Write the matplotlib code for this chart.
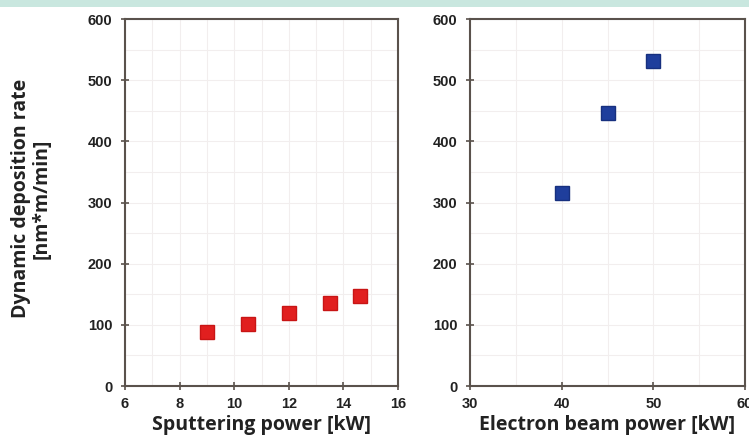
import matplotlib
matplotlib.use("Agg")
import matplotlib.pyplot as plt
from matplotlib.patches import Rectangle
from matplotlib.font_manager import FontProperties

# Data
sputter_power = [9.0, 10.5, 12.0, 13.5, 14.6]
sputter_rate = [88, 101, 119, 136, 147]
ebeam_power = [40, 45, 50]
ebeam_rate = [316, 446, 532]

left_xticks = [6, 8, 10, 12, 14, 16]
right_xticks = [30, 40, 50, 60]
yticks = [0, 100, 200, 300, 400, 500, 600]

fig = plt.figure(figsize=(7.49, 4.41), dpi=100)
fig.patch.set_facecolor("white")
fig.patches.append(Rectangle((0, 1 - 7 / 441), 1, 7 / 441, transform=fig.transFigure,
                             facecolor="#c9e7df", edgecolor="none"))

spine_col = "#5a524c"
tick_fp = FontProperties(family="Liberation Sans", weight="bold", size=10.5)
label_font = dict(family="Open Sans", weight="bold", size=14)


def style(ax, xlim, xticks, xminor):
    ax.set_xlim(*xlim)
    ax.set_ylim(0, 600)
    ax.set_xticks(xticks)
    ax.set_yticks(yticks)
    ax.set_xticks(xminor, minor=True)
    ax.set_yticks(range(50, 600, 100), minor=True)
    for s in ax.spines.values():
        s.set_color(spine_col)
        s.set_linewidth(1.5)
    ax.tick_params(axis="both", which="major", direction="inout", length=6,
                   width=1.2, color=spine_col, labelcolor="#222222")
    ax.tick_params(axis="x", which="major", pad=5)
    ax.tick_params(axis="y", which="major", pad=6)
    ax.tick_params(axis="both", which="minor", length=0)
    for lab in ax.get_xticklabels() + ax.get_yticklabels():
        lab.set_fontproperties(tick_fp)
    ax.grid(True, which="both", color="#f2eeee", linewidth=0.8)
    ax.set_axisbelow(True)


ax1 = fig.add_axes([125 / 749, 55 / 441, 273 / 749, 367 / 441])
ax1.plot(sputter_power, sputter_rate, linestyle="none", marker="s", markersize=10,
         color="#e11f1f", markeredgecolor="#c81515")
style(ax1, (6, 16), left_xticks, [7, 9, 11, 13, 15])
ax1.set_xlabel("Sputtering power [kW]", labelpad=3, color="#222222", **label_font)
ax1.set_ylabel("Dynamic deposition rate\n[nm*m/min]", color="#222222",
               linespacing=1.0, **label_font)
ax1.yaxis.set_label_coords(-0.27, 0.51)

ax2 = fig.add_axes([470 / 749, 55 / 441, 275 / 749, 367 / 441])
ax2.plot(ebeam_power, ebeam_rate, linestyle="none", marker="s", markersize=10,
         color="#1f3e9c", markeredgecolor="#17307f")
style(ax2, (30, 60), right_xticks, [35, 45, 55])
ax2.set_xlabel("Electron beam power [kW]", labelpad=3, color="#222222", **label_font)

fig.savefig("out.png", dpi=100)
